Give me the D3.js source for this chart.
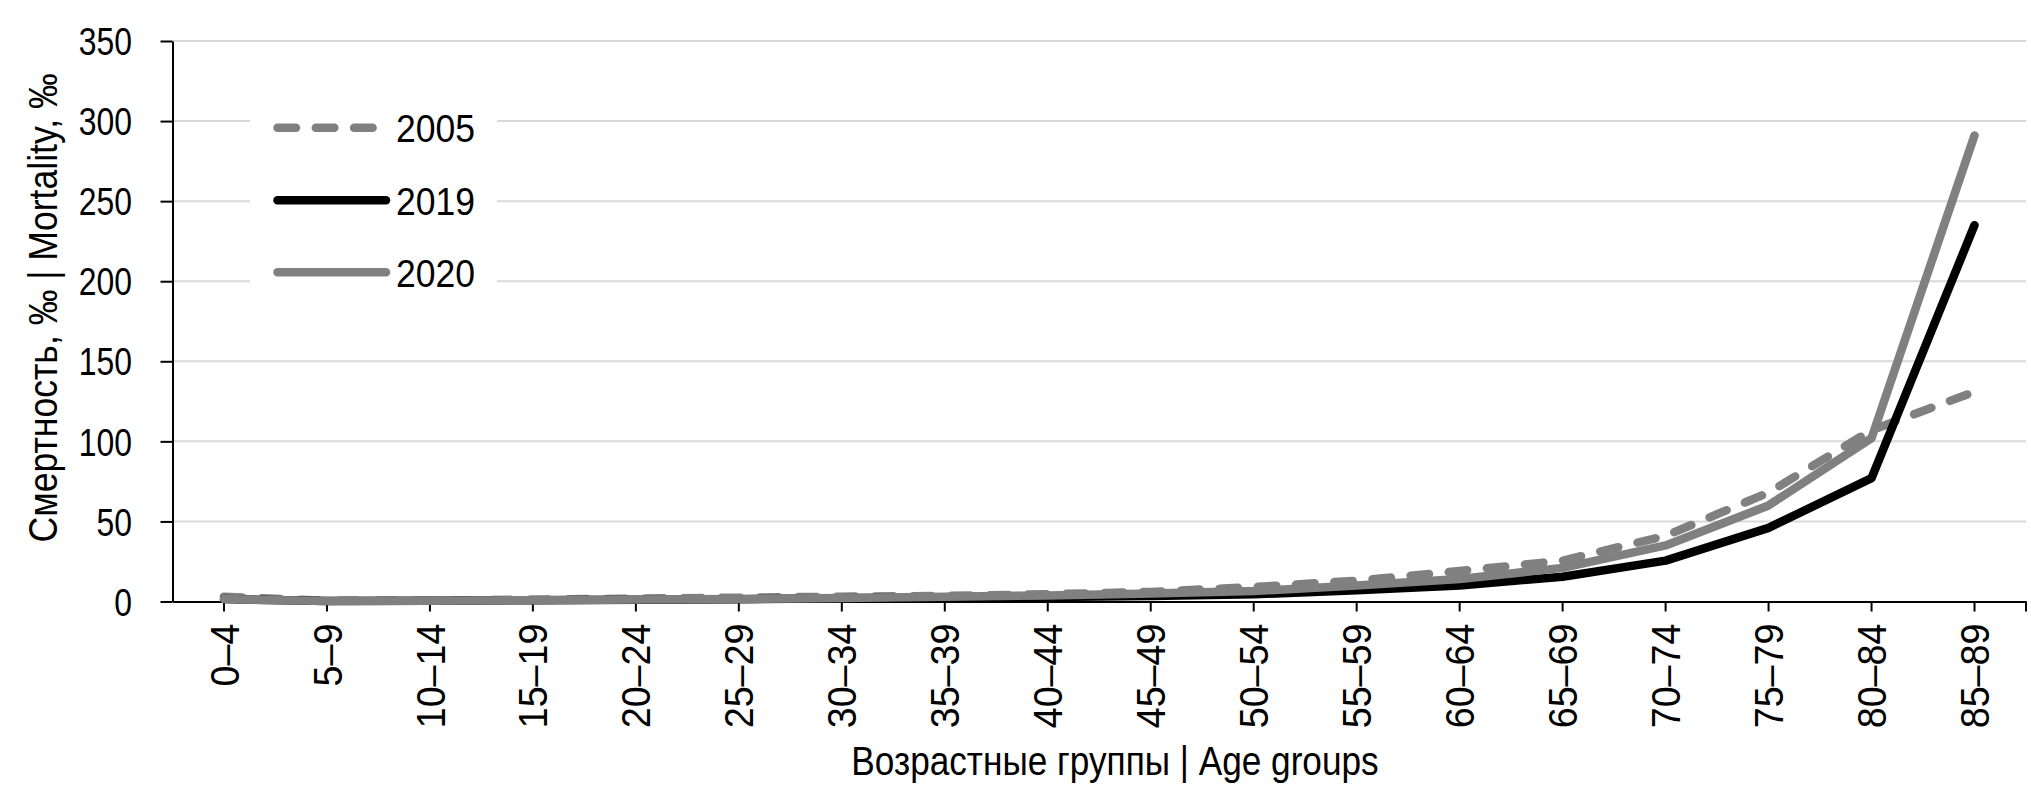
<!DOCTYPE html>
<html><head><meta charset="utf-8">
<script src="https://cdn.jsdelivr.net/npm/d3@7"></script>
<style>
body{margin:0;background:#fff}
svg{display:block}
text{font-family:"Liberation Sans",Arial,sans-serif;fill:#000}
</style>
</head><body>
<svg id="c" width="2031" height="797"></svg>
<script>
// ---- data ----
const categories = ["0–4","5–9","10–14","15–19","20–24","25–29","30–34","35–39","40–44","45–49","50–54","55–59","60–64","65–69","70–74","75–79","80–84","85–89"];
const seriesNames = ["2005","2019","2020"];
const values2005 = [3.0,0.5,0.5,1.2,1.8,2.4,3.0,3.5,4.5,6.0,9.0,13.0,19.0,25.5,41.0,68.0,107.0,131.0];
const values2019 = [1.5,0.3,0.4,0.8,1.1,1.4,2.0,2.7,2.8,3.5,4.5,7.0,10.0,15.5,25.5,46.0,77.0,235.0];
const values2020 = [1.5,0.3,0.4,0.8,1.2,1.5,2.2,2.9,3.8,5.0,6.5,10.0,14.0,21.0,35.0,60.0,102.0,291.0];
const yTicks = [0,50,100,150,200,250,300,350];
const yTitle = "Смертность, ‰ | Mortality, ‰";
const xTitle = "Возрастные группы | Age groups";

// ---- layout ----
const svg = d3.select("#c");
const mLeft = 172.5, mRight = 2026, mTop = 41, mBottom = 601.5;
const grey = "#808080";
const FF = '"Liberation Sans",Arial,sans-serif';

const x = d3.scaleBand().domain(categories).range([mLeft, mRight]).padding(0);
const cx = d => x(d) + x.bandwidth() / 2;
const y = d3.scaleLinear().domain([0, 350]).range([mBottom, mTop]);

// gridlines
svg.append("g").selectAll("line").data(yTicks.filter(v => v > 0)).join("line")
  .attr("x1", mLeft).attr("x2", mRight)
  .attr("y1", d => y(d)).attr("y2", d => y(d))
  .attr("stroke", "#d9d9d9").attr("stroke-width", 2);

// legend background
svg.append("rect").attr("x", 250).attr("y", 80).attr("width", 247).attr("height", 235).attr("fill", "#fff");

// y axis
const ySx = 0.84, yFs = 38;
const yAxis = svg.append("g").attr("transform", `translate(${mLeft},0)`)
  .call(d3.axisLeft(y).tickValues(yTicks).tickSize(12).tickSizeOuter(0).tickFormat(d3.format("d")));
yAxis.select(".domain").attr("stroke", "#000").attr("stroke-width", 2);
yAxis.selectAll(".tick line").attr("stroke", "#000").attr("stroke-width", 2);
yAxis.selectAll(".tick text")
  .attr("x", -(mLeft - 132) / ySx).attr("dy", "0.36em")
  .attr("text-anchor", "end")
  .attr("transform", `scale(${ySx},1)`)
  .style("font-size", yFs + "px").style("font-family", FF);

// x axis
const xSx = 0.92, xFs = 41;
const xAxis = svg.append("g").attr("transform", `translate(0,${mBottom})`)
  .call(d3.axisBottom(x).tickSize(10).tickSizeOuter(0));
xAxis.select(".domain").attr("stroke", "#000").attr("stroke-width", 2);
xAxis.selectAll(".tick line").attr("stroke", "#000").attr("stroke-width", 2);
xAxis.append("line").attr("x1", mRight).attr("x2", mRight).attr("y1", 0).attr("y2", 10)
  .attr("stroke", "#000").attr("stroke-width", 2);
xAxis.selectAll(".tick text")
  .attr("y", 0).attr("dy", null).attr("x", -22 / xSx)
  .attr("text-anchor", "end").attr("dominant-baseline", "central")
  .attr("transform", `rotate(-90) scale(${xSx},1)`)
  .style("font-size", xFs + "px").style("font-family", FF);

// lines
const line = d3.line().x((d, i) => cx(categories[i])).y(d => y(d));
const seriesData = [values2005, values2019, values2020];
const styles = [
  {stroke: grey, dash: "18.5,19.8"},
  {stroke: "#000", dash: null},
  {stroke: grey, dash: null}
];
seriesData.forEach((vals, k) => {
  svg.append("path").datum(vals).attr("d", line)
    .attr("fill", "none").attr("stroke", styles[k].stroke).attr("stroke-width", 8.5)
    .attr("stroke-linecap", "round").attr("stroke-linejoin", "round")
    .attr("stroke-dasharray", styles[k].dash);
});

// legend
const legY = [127.7, 200.3, 272.3];
seriesNames.forEach((name, k) => {
  svg.append("line").attr("x1", 277.5).attr("x2", 386).attr("y1", legY[k]).attr("y2", legY[k])
    .attr("stroke", styles[k].stroke).attr("stroke-width", 8.5)
    .attr("stroke-linecap", "round").attr("stroke-dasharray", styles[k].dash);
  svg.append("text").text(name)
    .attr("transform", `translate(396,${legY[k]}) scale(0.9,1)`)
    .attr("dy", "0.36em").style("font-size", "39.5px");
});

// axis titles
svg.append("text").text(yTitle)
  .attr("transform", `translate(57,308) rotate(-90) scale(0.89,1)`)
  .attr("text-anchor", "middle").style("font-size", "40px");
svg.append("text").text(xTitle)
  .attr("transform", `translate(1115,775) scale(0.88,1)`)
  .attr("text-anchor", "middle").style("font-size", "40px");
</script>
</body></html>
